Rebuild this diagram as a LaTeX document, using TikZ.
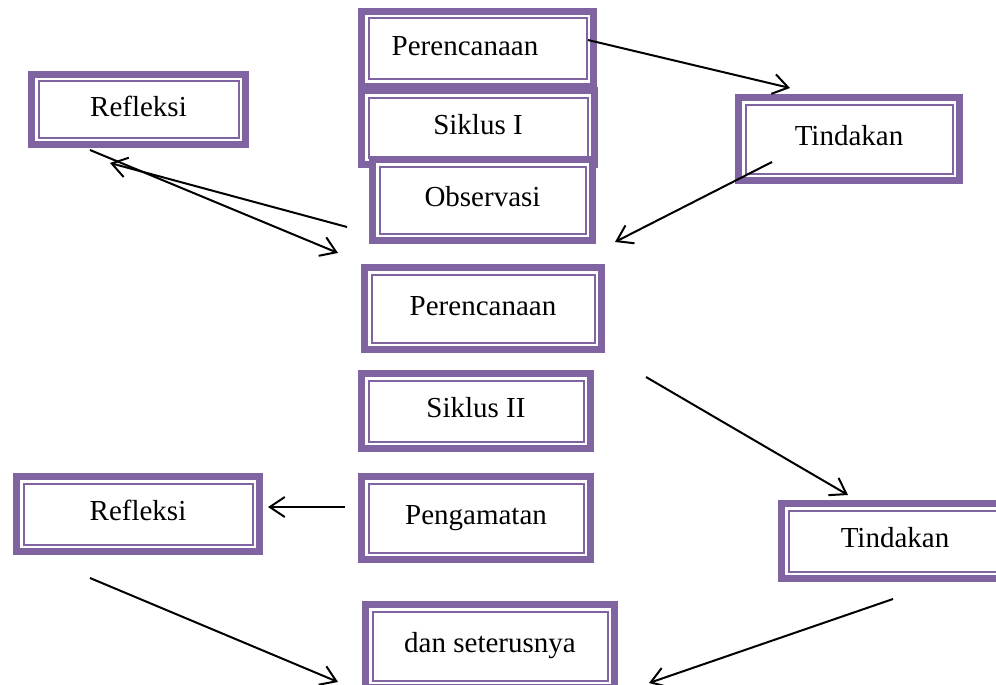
\documentclass[tikz,border=0pt]{standalone}
\usepackage{fontspec}
\setmainfont{Liberation Serif}
\usetikzlibrary{arrows.meta}
\definecolor{boxpurple}{RGB}{128,100,162}
\begin{document}
\begin{tikzpicture}
[x=1pt,y=-1pt,
  boxdecorate/.style={shape=rectangle,draw=boxpurple,line width=7pt,fill=white,
    inner sep=0pt,font=\fontsize{29}{34}\selectfont,text height=20pt,text depth=7pt,
    path picture={\draw[boxpurple,line width=2pt]
      ([shift={(7pt,-7pt)}]path picture bounding box.north west) rectangle
      ([shift={(-7pt,7pt)}]path picture bounding box.south east);}},%
  arrowdecorate/.style={-{Straight Barb[length=15pt,width=20pt]},line width=2pt}]
\useasboundingbox (0,0) rectangle (996,685);
\clip (0,0) rectangle (996,685);
%% boxes
\foreach \nodename/\x/\y/\w/\h/\nodetext in {
  plan1/477.5/49/232/75/{Perencanaan\hspace*{25pt}},
  cycle1/478/127.5/233/74/{Siklus I},
  obs1/482.5/200/220/81/{Observasi},
  refl1/138.5/109.5/214/70/{Refleksi},
  act1/849/139/221/83/{Tindakan},
  plan2/483/308.5/237/82/{Perencanaan},
  cycle2/476/411/229/75/{Siklus II},
  obs2/476/518/229/83/{Pengamatan},
  refl2/138/514/243/75/{Refleksi},
  act2/895/541/227/75/{Tindakan},
  next/490/646/249/83/{dan seterusnya}}
{
  \node (\nodename) at (\x,\y) [boxdecorate,minimum width=\w pt,minimum height=\h pt] {\nodetext};
}
%% arrow ends
\foreach \pointname/\x/\y in {a1s/588/40, a1e/790/88, a2s/772/162, a2e/615/242,
  a3s/347/227, a3e/110/163, a4s/90/150, a4e/338/253,
  a5s/646/377, a5e/848/495, a6s/893/599, a6e/649/683,
  a7s/345/507, a7e/268/507, a8s/90/578, a8e/338/682}
{
  \coordinate (\pointname) at (\x,\y);
}
%% arrows
\path
\foreach \startnode/\endnode in {a1s/a1e, a2s/a2e, a3s/a3e, a4s/a4e,
  a5s/a5e, a6s/a6e, a7s/a7e, a8s/a8e} {
  (\startnode) edge[arrowdecorate] (\endnode)
};
\end{tikzpicture}
\end{document}
